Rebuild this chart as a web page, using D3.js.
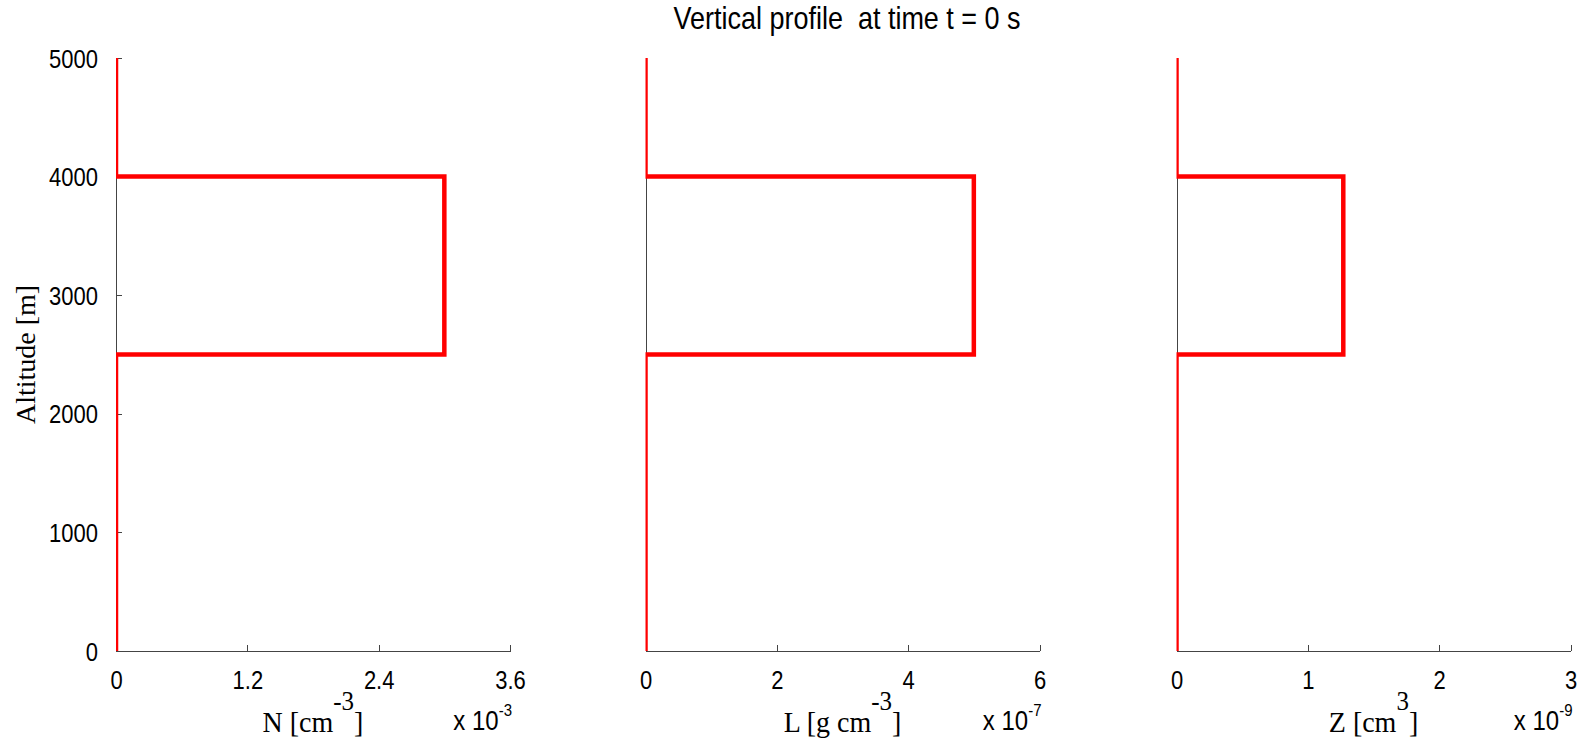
<!DOCTYPE html>
<meta charset="utf-8">
<style>

body {
  margin: 0;
  background: #ffffff;
}

.axis path,
.axis line {
  stroke: #444444;
  stroke-width: 1px;
  shape-rendering: crispEdges;
}

.axis text {
  font-family: "Liberation Sans", Arial, sans-serif;
  font-size: 22px;
  fill: #000000;
}

.profile {
  fill: none;
  stroke: #ff0000;
  stroke-width: 4.5px;
  stroke-linejoin: miter;
}

.title {
  font-family: "Liberation Sans", Arial, sans-serif;
  font-size: 27px;
  white-space: pre;
}

.xlabel, .ylabel {
  font-family: "Liberation Serif", "Times New Roman", serif;
  font-size: 28px;
}

.expo {
  font-family: "Liberation Sans", Arial, sans-serif;
  font-size: 24px;
}

</style>
<svg width=1586 height=748></svg>
<script src="https://cdn.jsdelivr.net/npm/d3@7"></script>
<script>

// profile data (altitude in m, values in units of the axis exponent)
const altitude = [0, 2500, 2500, 4000, 4000, 5000];
const numberConc = [0, 0, 3.0, 3.0, 0, 0];      // N  x 10^-3 cm^-3
const liquidContent = [0, 0, 5.0, 5.0, 0, 0];   // L  x 10^-7 g cm^-3
const meanVolume = [0, 0, 1.27, 1.27, 0, 0];    // Z  x 10^-9 cm^3

const altTicks = [0, 1000, 2000, 3000, 4000, 5000];
const nTicks = [0, 1.2, 2.4, 3.6];
const lTicks = [0, 2, 4, 6];
const zTicks = [0, 1, 2, 3];

const labelText = ["N [cm", "L [g cm", "Z [cm"];
const labelSup = ["-3", "-3", "3"];
const exponents = ["-3", "-7", "-9"];
const titleText = "Vertical profile  at time t = 0 s";

const panels = [
  {values: numberConc, ticks: nTicks},
  {values: liquidContent, ticks: lTicks},
  {values: meanVolume, ticks: zTicks}
];

const plotTop = 58,
      plotBottom = 651,
      plotWidth = 394,
      panelLeft = [116, 645.5, 1176.5],
      stretch = 1.15;   // glyphs in the picture are a bit taller than wide

var svg = d3.select("svg");

var y = d3.scaleLinear()
    .domain([0, 5000])
    .range([plotBottom, plotTop]);

svg.append("text")
    .attr("class", "title")
    .attr("transform", "translate(847,29) scale(1," + stretch + ")")
    .attr("text-anchor", "middle")
    .text(titleText);

panels.forEach(function(p, i) {
  var left = panelLeft[i];
  var x = d3.scaleLinear()
      .domain([0, p.ticks[p.ticks.length - 1]])
      .range([left, left + plotWidth]);

  svg.append("clipPath")
      .attr("id", "clip" + i)
    .append("rect")
      .attr("x", left)
      .attr("y", plotTop)
      .attr("width", plotWidth)
      .attr("height", plotBottom - plotTop);

  // y axis (labels only on the first panel)
  var yAxis = d3.axisLeft(y)
      .tickValues(i === 0 ? altTicks : [])
      .tickSizeInner(-6)
      .tickSizeOuter(0)
      .tickPadding(18)
      .tickFormat(function(d) { return d; });

  var gy = svg.append("g")
      .attr("class", "axis")
      .attr("transform", "translate(" + left + ",0)")
      .call(yAxis);
  gy.selectAll(".tick text")
      .attr("x", 0)
      .attr("transform", "translate(-18,1) scale(1," + stretch + ")");

  var xAxis = d3.axisBottom(x)
      .tickValues(p.ticks)
      .tickSizeInner(-6)
      .tickSizeOuter(0)
      .tickPadding(20)
      .tickFormat(function(d) { return d; });

  var gx = svg.append("g")
      .attr("class", "axis")
      .attr("transform", "translate(0," + plotBottom + ")")
      .call(xAxis);
  gx.selectAll(".tick text")
      .attr("y", 0)
      .attr("transform", "translate(0,20) scale(1," + stretch + ")");

  var line = d3.line()
      .x(function(d) { return x(d[0]); })
      .y(function(d) { return y(d[1]); });

  svg.append("path")
      .datum(d3.zip(p.values, altitude))
      .attr("class", "profile")
      .attr("clip-path", "url(#clip" + i + ")")
      .attr("d", line);

  // x label with superscript
  var xl = svg.append("text")
      .attr("class", "xlabel")
      .attr("transform", "translate(" + (left + plotWidth / 2) + ",732) scale(1,1.08)")
      .attr("text-anchor", "middle");
  xl.append("tspan").text(labelText[i]);
  xl.append("tspan").attr("dy", -20).attr("font-size", "25px").text(labelSup[i]);
  xl.append("tspan").attr("dy", 20).text("]");

  // axis multiplier
  var ex = svg.append("text")
      .attr("class", "expo")
      .attr("transform", "translate(" + (left + plotWidth + 2) + ",730) scale(1," + stretch + ")")
      .attr("text-anchor", "end");
  ex.append("tspan").text("x 10");
  ex.append("tspan").attr("dy", -12).attr("font-size", "15px").text(exponents[i]);
});

svg.append("text")
    .attr("class", "ylabel")
    .attr("transform", "translate(35," + ((plotTop + plotBottom) / 2) + ") rotate(-90)")
    .attr("text-anchor", "middle")
    .text("Altitude [m]");

</script>
